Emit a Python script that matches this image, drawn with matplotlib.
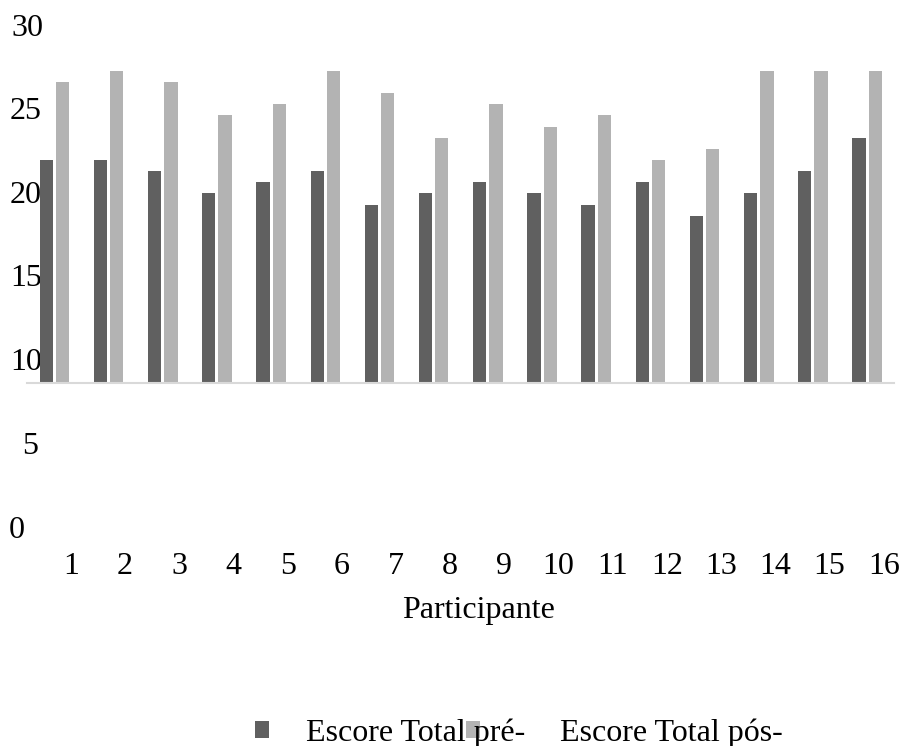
# Escore total pré e pós por participante - gráfico de barras agrupadas
import numpy as np
import matplotlib
matplotlib.use('Agg')
import matplotlib.pyplot as plt

plt.rcParams['font.family'] = ['Liberation Serif', 'DejaVu Serif']
plt.rcParams['font.size'] = 23

# Dados
participantes = [str(i) for i in range(1, 17)]
escore_pre = [20, 20, 19, 17, 18, 19, 16, 17, 18, 17, 16, 18, 15, 17, 19, 22]
escore_pos = [27, 28, 27, 24, 25, 28, 26, 22, 25, 23, 24, 20, 21, 28, 28, 28]
rotulos_y = ['0', '5', '10', '15', '20', '25', '30']
valores_y = [0, 5, 10, 15, 20, 25, 30]

cor_pre = '#606060'
cor_pos = '#b3b3b3'

W, H = 905, 746
fig = plt.figure(figsize=(W / 100, H / 100), dpi=100)

# rótulos do eixo y (deslocados, como no original) - ficam atrás das barras
ax2 = fig.add_axes([0, (H - 530) / H, 1, (530 - 28) / H])
ax2.set_ylim(0, 30)
ax2.set_xlim(0, W)
ax2.axis('off')
dir_px = [25, 38, 42, 42, 42, 42, 43]
for v, r, d in zip(valores_y, rotulos_y, dir_px):
    ax2.text(d, v, r, ha='right', va='center')

# eixo das barras (em pixels: x 27-894, base em y=383, topo 30 em y=48.5)
base_px, topo_px = 383, 48.5
ax = fig.add_axes([27 / W, (H - base_px) / H, 867 / W, (base_px - topo_px) / H])
ax.patch.set_visible(False)
x = np.arange(len(participantes))
b1 = ax.bar(x - 0.145, escore_pre, width=0.245, color=cor_pre, label='Escore Total pré-')
b2 = ax.bar(x + 0.155, escore_pos, width=0.245, color=cor_pos, label='Escore Total pós-')
ax.set_xlim(-0.5, len(participantes) - 0.5)
ax.set_ylim(0, 30)
for s in ['top', 'right', 'left']:
    ax.spines[s].set_visible(False)
ax.spines['bottom'].set_color('#d9d9d9')
ax.spines['bottom'].set_linewidth(1.5)
ax.set_yticks([])
ax.set_xticks(x + 0.31)
ax.set_xticklabels(participantes)
ax.tick_params(axis='x', length=0, pad=122)
ax.set_xlabel('Participante')
ax.xaxis.set_label_coords((479 - 27) / 867, -(596 - base_px) / (base_px - topo_px))

# legenda (duas entradas com espaçamentos diferentes, como no original)
fs = 23 * 100 / 72
kw = dict(frameon=False, loc='center left', borderpad=0, borderaxespad=0,
          handlelength=14 / fs, handleheight=14 / fs)
leg2 = fig.legend(handles=[b2], bbox_to_anchor=(466 / W, (H - 733) / H),
                  handletextpad=80 / fs, **kw)
leg1 = fig.legend(handles=[b1], bbox_to_anchor=(255 / W, (H - 733) / H),
                  handletextpad=37 / fs, **kw)

fig.savefig('out.png', dpi=100)
